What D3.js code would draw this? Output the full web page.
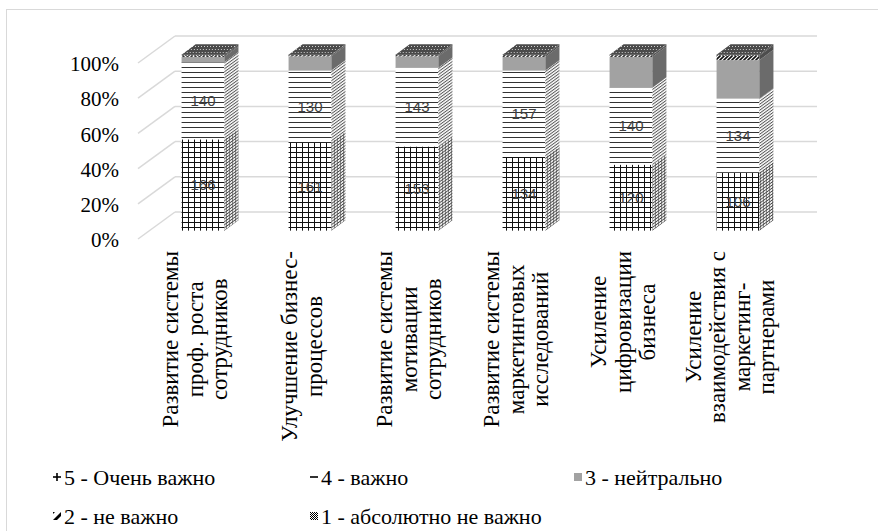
<!DOCTYPE html>
<html>
<head>
<meta charset="utf-8">
<script src="https://cdn.jsdelivr.net/npm/d3@7"></script>
<style>
  html, body { margin: 0; padding: 0; background: #fff; }
  svg { display: block; }
  .serif { font-family: "Liberation Serif", "Times New Roman", Tinos, serif; }
  .sans { font-family: "Liberation Sans", Arial, sans-serif; }
</style>
</head>
<body>
<svg id="chart" width="878" height="531"></svg>
<script>
// Survey answers: priority of each development direction (number of respondents)
const categories = [
  ["Развитие системы", "проф. роста", "сотрудников"],
  ["Улучшение бизнес-", "процессов"],
  ["Развитие системы", "мотивации", "сотрудников"],
  ["Развитие системы", "маркетинговых", "исследований"],
  ["Усиление", "цифровизации", "бизнеса"],
  ["Усиление", "взаимодействия с", "маркетинг-", "партнерами"]
];
const seriesNames = ["5 - Очень важно", "4 - важно", "3 - нейтрально", "2 - не важно", "1 - абсолютно не важно"];
const veryImportant = [166, 161, 153, 134, 120, 106];
const important     = [140, 130, 143, 157, 140, 134];
const neutral       = [10, 26, 21, 25, 56, 70];
const notImportant  = [2, 2, 2, 3, 3, 8];
const notAtAll      = [2, 1, 1, 1, 1, 2];
const seriesValues = [veryImportant, important, neutral, notImportant, notAtAll];
const yTicks = [0, 0.2, 0.4, 0.6, 0.8, 1];
const labelledSeries = [0, 1];

const svg = d3.select("#chart");
const defs = svg.append("defs");

// outer chart frame
svg.append("rect")
  .attr("x", 6.5).attr("y", 9.5).attr("width", 1000).attr("height", 1000)
  .attr("fill", "none").attr("stroke", "#d9d9d9").attr("stroke-width", 1);

// 3D geometry of the plot box
const depth = { x: 37, y: -27 };
const barDepth = [0.31, 0.69];
const x = d3.scaleBand().domain(d3.range(categories.length))
  .range([138, 780]).paddingInner(0.6).paddingOuter(0.3);
const y = d3.scaleLinear().domain([0, 1]).range([239, 63]);

// ---- fill patterns ----
function pattern(id, w, h, draw, transform) {
  const p = defs.append("pattern").attr("id", id)
    .attr("patternUnits", "userSpaceOnUse").attr("width", w).attr("height", h);
  if (transform) p.attr("patternTransform", transform);
  draw(p);
}
const skew = "skewY(" + (Math.atan2(depth.y, depth.x) * 180 / Math.PI) + ")";

// series 5: grid
pattern("p5front", 6, 5, p => {
  p.append("rect").attr("width", 6).attr("height", 5).attr("fill", "#fff");
  p.append("rect").attr("x", 2).attr("width", 1).attr("height", 5).attr("fill", "#111");
  p.append("rect").attr("y", 2).attr("width", 6).attr("height", 1).attr("fill", "#111");
});
pattern("p5side", 3, 3, p => {
  p.append("rect").attr("width", 3).attr("height", 3).attr("fill", "#fff");
  p.append("rect").attr("x", 1).attr("width", 1).attr("height", 3).attr("fill", "#555");
  p.append("rect").attr("y", 1).attr("width", 3).attr("height", 1).attr("fill", "#444");
}, skew);
// series 4: horizontal lines
pattern("p4front", 8, 5, p => {
  p.append("rect").attr("width", 8).attr("height", 5).attr("fill", "#fff");
  p.append("rect").attr("y", 2).attr("width", 8).attr("height", 1).attr("fill", "#333");
});
pattern("p4side", 4, 3, p => {
  p.append("rect").attr("width", 4).attr("height", 3).attr("fill", "#fff");
  p.append("rect").attr("y", 1).attr("width", 4).attr("height", 1.2).attr("fill", "#555");
}, skew);
// series 2: diagonal stripes
pattern("p2front", 4, 4, p => {
  p.append("rect").attr("width", 4).attr("height", 4).attr("fill", "#fff");
  p.append("path").attr("d", "M0,4 L4,0 M-1,1 L1,-1 M3,5 L5,3").attr("stroke", "#111").attr("stroke-width", 1.6);
});
// series 1 and top face: dark checker
pattern("p1front", 3, 3, p => {
  p.append("rect").attr("width", 3).attr("height", 3).attr("fill", "#3c3c3c");
  p.append("rect").attr("x", 1).attr("y", 1).attr("width", 1).attr("height", 1).attr("fill", "#d8d8d8");
});
pattern("ptop", 3, 3, p => {
  p.append("rect").attr("width", 3).attr("height", 3).attr("fill", "#4a4a4a");
  p.append("rect").attr("x", 1).attr("y", 1).attr("width", 1).attr("height", 1).attr("fill", "#cfcfcf");
}, "skewX(-54)");

const fronts = ["url(#p5front)", "url(#p4front)", "#a2a2a2", "url(#p2front)", "url(#p1front)"];
const sides  = ["url(#p5side)", "url(#p4side)", "#6b6b6b", "#4d4d4d", "#444"];

// ---- back wall and side wall gridlines ----
const grid = svg.append("g").attr("stroke", "#d9d9d9").attr("stroke-width", 1.5).attr("fill", "none");
grid.selectAll("line.back").data(yTicks).join("line")
  .attr("x1", 138 + depth.x).attr("x2", 780 + depth.x)
  .attr("y1", d => y(d) + depth.y).attr("y2", d => y(d) + depth.y);
grid.selectAll("line.side").data(yTicks).join("line")
  .attr("x1", 138).attr("x2", 138 + depth.x)
  .attr("y1", d => y(d)).attr("y2", d => y(d) + depth.y);

// ---- y axis labels ----
const yAxis = d3.axisLeft(y).tickValues(yTicks).tickFormat(d3.format(".0%")).tickSize(0).tickPadding(0);
const ya = svg.append("g").attr("transform", "translate(119,1)").call(yAxis);
ya.select(".domain").remove();
ya.attr("font-family", null).attr("font-size", null);
ya.selectAll("text").attr("class", "serif").style("font-size", "21px").attr("fill", "#000");

// ---- stacked 3D bars ----
const totals = categories.map((c, i) => d3.sum(seriesValues, s => s[i]));
const stack = d3.stack().keys(d3.range(seriesValues.length))
  .value((i, k) => seriesValues[k][i] / totals[i]);
const stacked = stack(d3.range(categories.length));

const ox = barDepth[0] * depth.x, oy = barDepth[0] * depth.y;
const sdx = (barDepth[1] - barDepth[0]) * depth.x, sdy = (barDepth[1] - barDepth[0]) * depth.y;
const bw = x.bandwidth();

categories.forEach((c, i) => {
  const g = svg.append("g");
  const xl = x(i) + ox, xr = xl + bw;
  stacked.forEach((layer, k) => {
    const [v0, v1] = layer[i];
    const yb = y(v0) + oy, yt = y(v1) + oy;
    if (yb - yt <= 0) return;
    g.append("rect").attr("x", xl).attr("y", yt).attr("width", bw).attr("height", yb - yt)
      .attr("fill", fronts[k]);
    g.append("path")
      .attr("d", `M${xr},${yb} L${xr + sdx},${yb + sdy} L${xr + sdx},${yt + sdy} L${xr},${yt} Z`)
      .attr("fill", sides[k]);
  });
  const yTop = y(1) + oy;
  g.append("path")
    .attr("d", `M${xl},${yTop} L${xr},${yTop} L${xr + sdx},${yTop + sdy} L${xl + sdx},${yTop + sdy} Z`)
    .attr("fill", "url(#ptop)");
  // value labels for the two largest answers
  labelledSeries.forEach(k => {
    const [v0, v1] = stacked[k][i];
    g.append("text").attr("class", "sans")
      .attr("x", xl + bw / 2).attr("y", (y(v0) + y(v1)) / 2 + oy)
      .attr("dy", "0.35em").attr("text-anchor", "middle")
      .style("font-size", "15px")
      .attr("fill", "#404040").text(seriesValues[k][i]);
  });
});

// ---- category labels (rotated, centred block ending just below the plot) ----
const lineGap = 24.5;
categories.forEach((lines, i) => {
  const cx = x(i) + x.bandwidth() / 2 + 3;
  const g = svg.append("g");
  const texts = lines.map((t, j) => g.append("text").attr("class", "serif")
    .style("font-size", "23px").attr("fill", "#000").attr("text-anchor", "middle")
    .text(t));
  const maxLen = d3.max(texts, t => t.node().getComputedTextLength());
  const cy = 251 + maxLen / 2;
  texts.forEach((t, j) => {
    const lx = cx + (j - (lines.length - 1) / 2) * lineGap;
    t.attr("transform", `translate(${lx},${cy}) rotate(-90)`).attr("dy", "0.35em");
  });
});

// ---- legend ----
const legendPos = [[53, 477], [310, 477], [574, 477], [53, 516], [310, 516]];
pattern("legendChecker", 2, 2, p => {
  p.append("rect").attr("width", 2).attr("height", 2).attr("fill", "#fff");
  p.append("rect").attr("width", 1).attr("height", 1).attr("fill", "#000");
  p.append("rect").attr("x", 1).attr("y", 1).attr("width", 1).attr("height", 1).attr("fill", "#000");
});
function swatch(g, k) {
  if (k === 0) {
    g.append("rect").attr("x", 3.2).attr("y", -4).attr("width", 1.6).attr("height", 8).attr("fill", "#000");
    g.append("rect").attr("x", 0).attr("y", -0.8).attr("width", 8).attr("height", 1.6).attr("fill", "#000");
  } else if (k === 1) {
    g.append("rect").attr("x", 0).attr("y", -0.8).attr("width", 8).attr("height", 1.6).attr("fill", "#000");
  } else if (k === 2) {
    g.append("rect").attr("x", 0).attr("y", -4).attr("width", 8).attr("height", 8).attr("fill", "#a2a2a2");
  } else if (k === 3) {
    g.append("path").attr("d", "M0,4 L8,-4 L8,0 L4,4 Z M0,-2 L2,-4 L0,-4 Z").attr("fill", "#000");
  } else {
    g.append("rect").attr("x", 0).attr("y", -4).attr("width", 8).attr("height", 8).attr("fill", "url(#legendChecker)");
  }
}
seriesNames.forEach((name, k) => {
  const [lx, ly] = legendPos[k];
  const g = svg.append("g").attr("transform", `translate(${lx},${ly})`);
  swatch(g.append("g"), k);
  g.append("text").attr("class", "serif").attr("x", 11).attr("dy", "0.35em")
    .style("font-size", "22px").attr("fill", "#000").text(name);
});
</script>
</body>
</html>
